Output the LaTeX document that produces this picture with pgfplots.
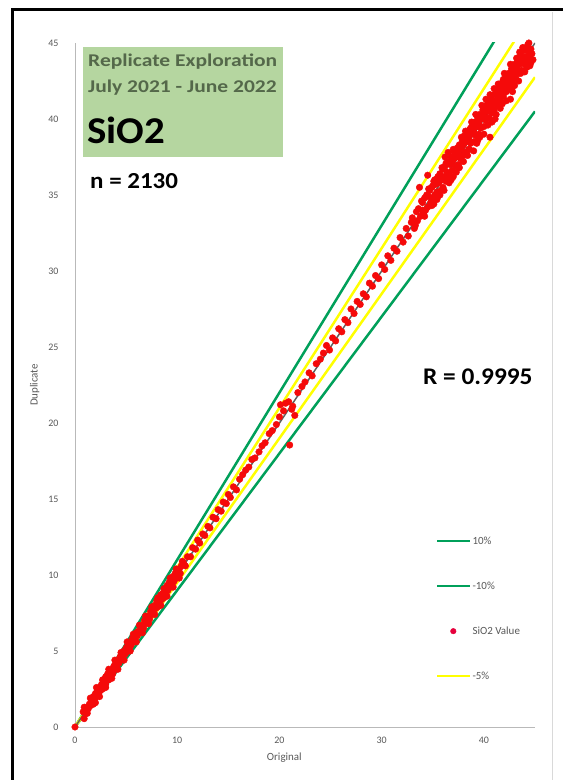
\documentclass[border=0pt]{standalone}
\usepackage{pgfplots}
\pgfplotsset{compat=1.18}
\usepackage{fontspec}
\setmainfont{Carlito}
\definecolor{mygreen}{RGB}{0,160,90}
\definecolor{myyellow}{RGB}{255,255,0}
\definecolor{mygrey}{RGB}{95,95,95}
\definecolor{tickgrey}{RGB}{89,89,89}
\definecolor{boxgreen}{RGB}{181,214,160}
\definecolor{titlegreen}{RGB}{84,104,74}
\definecolor{dotred}{RGB}{245,10,10}
\definecolor{legred}{RGB}{230,0,60}
\pgfplotsset{
  linelegend/.style={legend image code/.code={\draw[##1] (0bp,0bp) -- (33bp,0bp);}},
  dotlegend/.style={legend image code/.code={\draw[mark repeat=2, mark phase=2, ##1] plot coordinates {(0bp,0bp) (16bp,0bp) (33bp,0bp)};}},
}

\pgfplotstableread{
x y
0 0
0.8 1.0
0.9 0.55
1.0 1.1
1.1 0.9
1.2 1.3
1.3 1.2
1.4 1.5
1.5 1.4
1.6 1.8
1.7 1.6
1.8 2.0
1.9 1.8
2.0 2.2
2.0 1.6
2.1 2.0
2.2 2.4
2.3 2.2
2.4 2.6
2.5 2.4
2.6 2.8
2.7 2.5
2.8 3.0
2.9 2.8
3.0 3.3
3.0 2.8
3.1 3.1
3.2 3.5
3.3 3.1
3.4 3.6
3.5 3.4
3.6 3.7
3.7 3.5
3.8 4.0
3.9 3.8
4.0 4.2
4.0 3.8
4.1 4.1
4.2 4.4
4.3 4.2
4.4 4.6
4.5 4.4
4.6 4.7
4.7 4.5
4.8 5.0
4.9 4.8
5.0 5.2
5.0 4.9
5.1 5.0
5.2 5.4
5.3 5.2
5.4 5.5
5.5 5.4
5.6 5.8
5.7 5.6
5.8 5.9
5.9 5.7
6.0 6.2
6.1 6.0
6.2 6.3
6.3 6.2
6.4 6.6
6.5 6.4
6.6 6.7
6.7 6.5
6.8 7.0
6.9 6.8
7.0 7.2
7.1 6.9
7.2 7.3
7.3 7.1
7.4 7.6
7.5 7.4
7.6 7.8
7.7 7.5
7.8 8.0
7.9 7.8
8.0 8.3
8.1 7.9
8.2 8.4
8.3 8.2
8.4 8.7
8.5 8.4
8.6 8.8
8.7 8.5
8.8 9.1
8.9 8.8
9.0 9.3
9.1 9.0
9.2 9.5
9.3 9.2
9.4 9.8
9.5 9.4
9.6 9.9
9.7 9.6
9.8 10.1
9.9 9.8
10.0 10.3
10.1 10.0
10.2 10.4
10.3 10.1
10.4 10.6
0.9 1.3
1.2 0.9
1.5 1.9
1.8 1.5
2.1 2.6
2.4 2.0
2.7 3.1
3.0 2.6
3.3 3.8
3.6 3.2
3.9 4.4
4.2 3.8
4.5 4.9
4.8 4.4
5.1 5.6
5.4 5.0
5.7 6.1
6.0 5.6
6.3 6.7
6.6 6.2
6.9 7.3
7.2 6.8
7.5 7.9
7.8 7.4
8.1 8.5
8.4 8.0
8.7 9.1
9.0 8.6
9.3 9.8
9.6 9.2
9.9 10.4
10.2 9.8
10.5 10.9
10.6 10.8
10.8 10.6
11.0 11.2
11.3 11.2
11.5 11.8
11.8 11.7
12.0 12.3
12.2 12.1
12.5 12.7
12.7 12.6
13.0 13.2
13.2 13.1
13.5 13.8
13.8 13.7
14.0 14.3
14.3 14.2
14.5 14.8
14.8 14.7
15.0 15.3
15.2 15.1
15.5 15.8
15.8 15.6
16.1 16.3
16.4 16.6
16.7 16.9
17.0 17.1
17.3 17.6
17.6 17.7
18.0 18.1
18.3 18.5
18.6 18.7
19.0 19.3
19.3 19.5
19.7 19.9
20.0 20.4
20.1 21.2
20.4 20.8
20.6 21.3
20.9 21.4
21.0 18.55
21.2 20.9
21.5 20.5
21.3 21.1
21.8 22.0
22.2 22.4
22.5 22.7
22.9 23.3
23.2 23.1
23.6 23.9
24.0 24.2
24.3 24.6
24.6 25.1
24.9 24.8
25.2 25.6
25.5 25.4
25.8 26.2
26.1 26.0
26.4 26.8
26.7 26.6
27.0 27.5
27.3 27.2
27.6 28.0
27.9 27.8
28.2 28.5
28.5 28.3
28.8 29.2
29.1 29.0
29.4 29.7
29.7 29.5
30.0 30.4
30.3 30.1
30.6 31.0
30.9 30.7
31.2 31.5
31.5 31.3
31.8 32.2
32.1 31.9
32.4 32.8
32.6 32.3
32.9 33.2
33.0 33.5
33.2 32.8
33.4 33.9
33.5 33.3
33.6 34.1
33.7 35.5
33.8 33.6
34.0 34.5
34.1 33.8
34.2 34.8
34.3 34.0
34.4 35.0
34.5 36.3
34.5 34.2
34.6 34.9
34.7 35.3
34.8 34.5
34.9 35.5
35.0 34.8
35.0 35.6
35.1 35.9
35.2 35.0
35.3 35.7
35.4 35.2
35.5 36.2
35.5 34.9
35.6 35.8
35.7 36.4
35.8 35.3
35.9 36.0
36.0 36.7
36.0 35.5
36.1 36.2
36.2 36.9
36.3 35.9
36.4 36.5
36.5 37.8
36.5 37.2
36.6 36.3
36.7 37.0
36.8 37.5
36.9 36.6
37.0 37.3
37.0 36.2
37.1 37.8
37.2 36.9
37.3 37.5
37.4 38.1
37.5 37.0
37.5 37.7
37.6 38.3
37.7 37.4
37.8 38.0
37.9 38.6
38.0 37.6
38.0 38.3
38.1 38.9
38.2 37.8
38.3 38.5
38.4 39.1
38.5 38.0
38.5 38.7
38.6 39.3
38.7 38.4
38.8 39.0
38.9 39.6
39.0 38.5
39.0 39.2
39.1 39.8
39.2 38.9
39.3 39.5
39.4 40.1
39.5 39.0
39.5 39.7
39.6 40.3
39.7 39.4
39.8 40.0
39.9 40.6
40.0 39.5
40.0 40.2
40.1 40.8
40.2 39.9
40.3 40.5
40.4 41.1
40.5 40.1
40.6 38.8
40.6 40.8
40.7 41.3
40.8 40.4
40.9 41.0
41.0 41.6
41.0 40.6
41.1 41.2
41.2 41.8
41.3 40.9
41.4 41.5
41.5 42.1
41.6 41.2
41.7 41.8
41.8 42.4
41.9 41.5
42.0 42.1
42.1 42.7
42.2 41.8
42.3 42.4
42.4 43.0
42.5 42.0
42.6 41.3
42.6 42.7
42.7 43.3
42.8 42.4
42.9 43.0
43.0 43.6
43.1 42.7
43.2 43.3
43.3 43.9
43.4 43.0
43.5 43.6
43.6 44.2
43.7 43.2
43.8 43.9
43.9 44.5
44.0 43.6
44.1 44.1
44.2 44.7
44.3 43.8
44.4 44.4
44.5 44.0
44.6 44.6
44.7 44.3
44.8 43.9
44.5 43.5
33.3 33.0
33.9 34.6
34.2 33.6
34.6 35.4
34.9 34.3
35.2 36.0
35.4 34.7
35.7 35.0
35.9 36.8
36.1 35.3
36.3 37.1
36.6 35.8
36.8 36.0
37.0 38.0
37.2 37.9
37.3 36.5
37.6 36.8
37.8 38.8
38.0 37.2
38.2 39.2
38.4 37.6
38.6 38.0
38.8 39.8
39.0 37.9
39.2 40.3
39.4 38.6
39.6 38.8
39.8 40.9
40.0 39.0
40.2 41.3
40.4 39.6
40.6 41.6
40.8 39.8
41.0 42.0
41.2 40.3
41.4 42.3
41.6 40.7
41.8 41.0
42.0 43.0
42.2 41.2
42.4 42.2
42.6 43.6
42.8 41.8
43.0 42.2
43.2 44.0
43.4 42.5
43.6 43.0
43.8 44.7
44.0 43.1
44.2 43.4
44.4 45.0
44.6 43.7
36.4 36.0
37.7 38.2
38.7 39.4
39.3 38.4
40.3 40.9
41.1 40.0
41.9 42.6
42.7 42.0
43.5 44.4
44.3 44.9
34.0 34.0
35.1 34.4
36.2 37.5
}\sio

\pgfplotstableread{
x p10 m10 p5 m5 one
0 0 0 0 0 0
45 49.5 40.5 47.25 42.75 45
}\lines

\begin{document}
\begin{tikzpicture}[x=1bp,y=1bp]
\useasboundingbox (0,0) rectangle (563,780);
\fill[white] (0,0) rectangle (563,780);
\draw[black, line width=3bp] (12,0) -- (12,770) -- (563,770);
\draw[gray!30, line width=0.8bp] (552,0) -- (552,768);
\fill[boxgreen] (83,623) rectangle (283,733);
\node[anchor=west, inner sep=0pt, text=titlegreen, font=\fontsize{18}{22}\selectfont\bfseries] at (88,718) {\scalebox{1.2}[1]{Replicate Exploration}};
\node[anchor=west, inner sep=0pt, text=titlegreen, font=\fontsize{18}{22}\selectfont\bfseries] at (88,692) {\scalebox{1.2}[1]{July 2021 - June 2022}};
\node[anchor=west, inner sep=0pt, text=black, font=\fontsize{38}{44}\selectfont\bfseries] at (87,650) {\scalebox{1.08}[1]{SiO2}};
\node[anchor=west, inner sep=0pt, text=black, font=\fontsize{23}{28}\selectfont\bfseries] at (90,599) {\scalebox{1.09}[1]{n = 2130}};
\node[anchor=west, inner sep=0pt, text=black, font=\fontsize{24}{28}\selectfont\bfseries] at (423,403) {\scalebox{1.06}[1]{R = 0.9995}};
\begin{axis}[
  at={(75bp,53bp)}, anchor=south west,
  scale only axis, width=460bp, height=684bp,
  xmin=0, xmax=45, ymin=0, ymax=45,
  axis x line*=bottom, axis y line*=left,
  axis line style={draw=gray!55, line width=0.8bp, -},
  xtick={0,10,...,40}, ytick={0,5,...,45},
  major tick length=0pt,
  /pgf/number format/assume math mode=true,
  tick label style={font=\fontsize{10}{12}\selectfont, text=tickgrey},
  yticklabel style={xshift=-13bp},
  xticklabel style={yshift=-7bp},
  xlabel={Original}, ylabel={Duplicate},
  label style={font=\fontsize{11}{13}\selectfont, text=tickgrey},
  xlabel style={at={(axis description cs:0.455,0)}, anchor=north, yshift=-22bp},
  ylabel style={at={(axis description cs:0,0.5)}, anchor=south, yshift=32bp},
  clip=true,
  legend style={at={(axis cs:35.3,12.6)}, anchor=north west, draw=none, fill=none,
    font=\fontsize{11}{13}\selectfont, text=tickgrey, row sep=34bp, inner sep=0pt,
    nodes={inner sep=1bp}},
  legend cell align=left,
]
\addplot[mygreen, line width=2.5bp, forget plot] table[x=x,y=p10] {\lines};
\addplot[mygreen, line width=2.5bp, forget plot] table[x=x,y=m10] {\lines};
\addplot[myyellow, line width=2.5bp, forget plot] table[x=x,y=p5] {\lines};
\addplot[myyellow, line width=2.5bp, forget plot] table[x=x,y=m5] {\lines};
\addplot[dotred, only marks, mark=*, mark size=3.3bp, mark options={fill=dotred, draw=dotred}, forget plot] table[x=x,y=y] {\sio};
\addplot[mygrey, line width=1.5bp, forget plot] table[x=x,y=one] {\lines};
\addlegendimage{mygreen, line width=2.5bp, linelegend}
\addlegendentry{10\%}
\addlegendimage{mygreen, line width=2.5bp, linelegend}
\addlegendentry{-10\%}
\addlegendimage{legred, only marks, mark=*, mark size=2.8bp, mark options={fill=legred, draw=legred}, dotlegend}
\addlegendentry{SiO2 Value}
\addlegendimage{myyellow, line width=2.5bp, linelegend}
\addlegendentry{-5\%}
\end{axis}
\end{tikzpicture}
\end{document}
